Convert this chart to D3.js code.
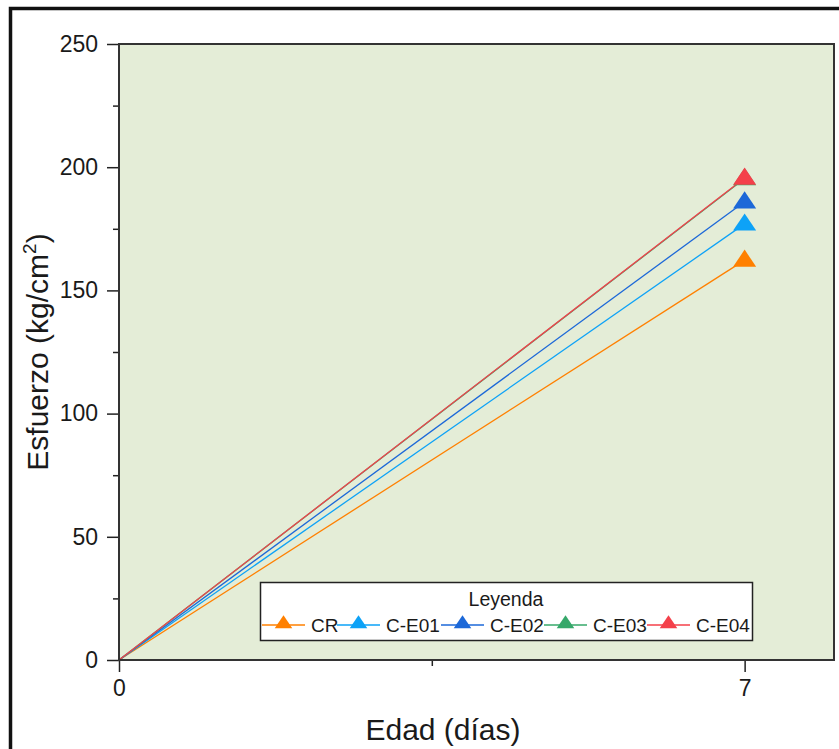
<!DOCTYPE html>
<html>
<head>
<meta charset="utf-8">
<script src="https://cdn.jsdelivr.net/npm/d3@7"></script>
<style>
  html, body { margin: 0; padding: 0; background: #fff; }
  svg { display: block; font-family: "Liberation Sans", Arial, sans-serif; }
</style>
</head>
<body>
<svg id="chart" width="839" height="749"></svg>
<script>
// Compressive strength at 0 and 7 days for each mix
const ages = [0, 7];
const seriesNames = ["CR", "C-E01", "C-E02", "C-E03", "C-E04"];
const strengthCR   = [0, 162.3];
const strengthCE01 = [0, 177.0];
const strengthCE02 = [0, 186.0];
const strengthCE03 = [0, 195.4];
const strengthCE04 = [0, 195.6];
const seriesColors = ["#FF8000", "#0DA2F7", "#1C68D8", "#36A86A", "#F4404A"];
const yMajorTicks = [0, 50, 100, 150, 200, 250];
const yMinorTicks = [25, 75, 125, 175, 225];
const xMajorTicks = [0, 7];
const xMinorTicks = [3.5];

const seriesValues = [strengthCR, strengthCE01, strengthCE02, strengthCE03, strengthCE04];
const series = seriesNames.map((name, i) => ({
  name,
  color: seriesColors[i],
  points: ages.map((a, j) => ({ x: a, y: seriesValues[i][j] }))
}));

const svg = d3.select("#chart");
const plot = { left: 119, top: 44, right: 834, bottom: 660 };

const x = d3.scaleLinear().domain([0, 8]).range([plot.left, plot.right]);
const y = d3.scaleLinear().domain([0, 250]).range([plot.bottom, plot.top]);

// Outer page frame (left and top edges visible)
svg.append("rect")
  .attr("x", 10.5).attr("y", 8.5)
  .attr("width", 1000).attr("height", 1000)
  .attr("fill", "none").attr("stroke", "#111").attr("stroke-width", 3.5);

// Plot background
svg.append("rect")
  .attr("x", plot.left).attr("y", plot.top)
  .attr("width", plot.right - plot.left).attr("height", plot.bottom - plot.top)
  .attr("fill", "#E4EDD7");

// Axes with outward ticks
const tickStyle = g => {
  g.select(".domain").remove();
  g.selectAll(".tick line").attr("stroke", "#222").attr("stroke-width", 1.5);
  g.selectAll(".tick text").attr("fill", "#1a1a1a").attr("font-size", 23);
};

svg.append("g")
  .attr("transform", `translate(${plot.left},0)`)
  .call(d3.axisLeft(y).tickValues(yMajorTicks).tickSize(12).tickPadding(9).tickFormat(d3.format("d")))
  .call(tickStyle);
svg.append("g")
  .attr("transform", `translate(${plot.left},0)`)
  .call(d3.axisLeft(y).tickValues(yMinorTicks).tickSize(6).tickFormat(""))
  .call(tickStyle);

svg.append("g")
  .attr("transform", `translate(0,${plot.bottom})`)
  .call(d3.axisBottom(x).tickValues(xMajorTicks).tickSize(12).tickPadding(8).tickFormat(d3.format("d")))
  .call(tickStyle);
svg.append("g")
  .attr("transform", `translate(0,${plot.bottom})`)
  .call(d3.axisBottom(x).tickValues(xMinorTicks).tickSize(6).tickFormat(""))
  .call(tickStyle);

// Series lines and markers
const line = d3.line().x(d => x(d.x)).y(d => y(d.y));
const tri = d3.symbol().type(d3.symbolTriangle);

series.forEach(s => {
  svg.append("path")
    .datum(s.points)
    .attr("d", line)
    .attr("fill", "none")
    .attr("stroke", s.color)
    .attr("stroke-width", 1.3);
});
series.forEach(s => {
  svg.append("g").selectAll("path")
    .data(s.points.filter(p => p.x > 0))
    .join("path")
    .attr("transform", p => `translate(${x(p.x)},${y(p.y) + 1}) scale(1.1,0.95)`)
    .attr("d", tri.size(190))
    .attr("fill", s.color);
});

// Plot frame
svg.append("rect")
  .attr("x", plot.left).attr("y", plot.top)
  .attr("width", plot.right - plot.left).attr("height", plot.bottom - plot.top)
  .attr("fill", "none").attr("stroke", "#333").attr("stroke-width", 2);

// Legend
const legend = svg.append("g");
legend.append("rect")
  .attr("x", 260.5).attr("y", 582.5).attr("width", 492).attr("height", 58)
  .attr("fill", "#fff").attr("stroke", "#222").attr("stroke-width", 1.5);
legend.append("text")
  .attr("x", 506).attr("y", 606)
  .attr("text-anchor", "middle").attr("font-size", 19.5).attr("fill", "#1a1a1a")
  .text("Leyenda");

const itemStarts = [262, 337, 441, 544, 647];
series.forEach((s, i) => {
  const x0 = itemStarts[i];
  const cy = 625;
  legend.append("line")
    .attr("x1", x0).attr("x2", x0 + 43).attr("y1", cy).attr("y2", cy)
    .attr("stroke", s.color).attr("stroke-width", 1.3);
  legend.append("path")
    .attr("transform", `translate(${x0 + 21.5},${cy - 1}) scale(1.1,0.95)`)
    .attr("d", tri.size(110))
    .attr("fill", s.color);
  legend.append("text")
    .attr("x", x0 + 49).attr("y", cy + 7)
    .attr("font-size", 19).attr("fill", "#1a1a1a")
    .text(s.name);
});

// Axis titles
svg.append("text")
  .attr("x", 443).attr("y", 740)
  .attr("text-anchor", "middle").attr("font-size", 30)
  .attr("fill", "#1a1a1a")
  .text("Edad (días)");

const yTitle = svg.append("text")
  .attr("transform", `translate(48,${(plot.top + plot.bottom) / 2}) rotate(-90)`)
  .attr("text-anchor", "middle").attr("font-size", 30)
  .attr("fill", "#1a1a1a");
yTitle.append("tspan").text("Esfuerzo (kg/cm");
yTitle.append("tspan").attr("dy", -12).attr("font-size", 19).text("2");
yTitle.append("tspan").attr("dy", 12).text(")");
</script>
</body>
</html>
